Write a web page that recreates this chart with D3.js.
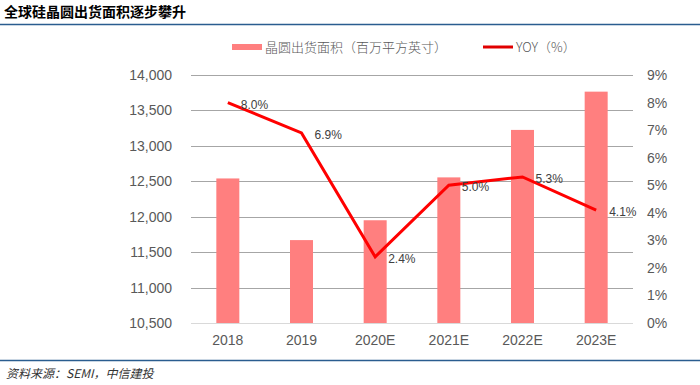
<!DOCTYPE html>
<html><head><meta charset="utf-8">
<script src="https://cdn.jsdelivr.net/npm/d3@7"></script>
<style>body{margin:0;background:#fff}svg{display:block}</style>
</head><body>
<svg id="c" width="700" height="385"></svg>
<script>
const categories = ["2018","2019","2020E","2021E","2022E","2023E"];
const area = [12540, 11670, 11950, 12555, 13225, 13765];
const yoy = [8.0, 6.9, 2.4, 5.0, 5.3, 4.1];
const leftTicks = [10500,11000,11500,12000,12500,13000,13500,14000];
const rightTicks = [0,1,2,3,4,5,6,7,8,9];

const svg = d3.select("#c");
const L = 191, R = 633, T = 75, B = 323;
const x = d3.scaleBand().domain(categories).range([L, R]);
const yL = d3.scaleLinear().domain([10500, 14000]).range([B, T]);
const yR = d3.scaleLinear().domain([0, 9]).range([B, T]);
const axisFont = "'Liberation Sans', Arial, sans-serif";

// title
svg.append("text").attr("x", 4).attr("y", 17).text("全球硅晶圆出货面积逐步攀升")
  .attr("font-family", "'Noto Sans CJK SC'").attr("font-weight", "bold").attr("font-size", 14).attr("fill", "#000");
svg.append("line").attr("x1", 0).attr("x2", 700).attr("y1", 24.5).attr("y2", 24.5).attr("stroke", "#2a5d8f").attr("stroke-width", 1.5);
svg.append("line").attr("x1", 0).attr("x2", 700).attr("y1", 360.5).attr("y2", 360.5).attr("stroke", "#2a5d8f").attr("stroke-width", 1.5);
svg.append("text").attr("x", 6).attr("y", 378).text("资料来源：SEMI，中信建投")
  .attr("font-family", "'Noto Sans CJK SC'").attr("font-style", "italic").attr("font-size", 12).attr("fill", "#333");

// grid
svg.append("g").selectAll("line").data(leftTicks.slice(1)).join("line")
  .attr("x1", L).attr("x2", R).attr("y1", d => Math.round(yL(d)) + 0.5).attr("y2", d => Math.round(yL(d)) + 0.5)
  .attr("stroke", "#a6a6a6").attr("stroke-width", 1);

// bars
svg.append("g").selectAll("rect").data(categories).join("rect")
  .attr("x", d => x(d) + x.bandwidth() / 2 - 11.5).attr("width", 23)
  .attr("y", (d, i) => yL(area[i])).attr("height", (d, i) => B - yL(area[i]))
  .attr("fill", "#ff7f7f");

// bottom axis line
svg.append("line").attr("x1", L).attr("x2", R).attr("y1", B + 0.5).attr("y2", B + 0.5).attr("stroke", "#d9d9d9");

// axes
const gl = svg.append("g").attr("transform", `translate(${L - 16},0)`)
  .call(d3.axisLeft(yL).tickValues(leftTicks).tickFormat(d3.format(",")).tickSize(0));
const gr = svg.append("g").attr("transform", `translate(${R + 11},0)`)
  .call(d3.axisRight(yR).tickValues(rightTicks).tickFormat(d => d + "%").tickSize(0));
const gx = svg.append("g").attr("transform", `translate(0,${B + 9})`)
  .call(d3.axisBottom(x).tickSize(0));
[gl, gr, gx].forEach(g => {
  g.select(".domain").remove();
  g.selectAll("text").attr("font-family", axisFont).attr("font-size", 14).attr("fill", "#595959");
});

// line
const line = d3.line().x((d, i) => x(categories[i]) + x.bandwidth() / 2).y(d => yR(d));
svg.append("path").datum(yoy).attr("d", line).attr("fill", "none")
  .attr("stroke", "#ff0000").attr("stroke-width", 3).attr("stroke-linejoin", "miter");

svg.append("g").selectAll("text").data(yoy).join("text")
  .attr("x", (d, i) => x(categories[i]) + x.bandwidth() / 2 + 13)
  .attr("y", d => yR(d) + 6)
  .text(d => d.toFixed(1) + "%")
  .attr("font-family", axisFont).attr("font-size", 12).attr("fill", "#404040");

// legend
const lf = "'Noto Sans CJK SC'";
svg.append("rect").attr("x", 232).attr("y", 44).attr("width", 30).attr("height", 6).attr("fill", "#ff7f7f");
svg.append("text").attr("x", 265).attr("y", 52).text("晶圆出货面积（百万平方英寸）")
  .attr("font-family", lf).attr("font-size", 13).attr("font-weight", 300).attr("fill", "#595959");
svg.append("line").attr("x1", 483).attr("x2", 513).attr("y1", 47).attr("y2", 47).attr("stroke", "#e00000").attr("stroke-width", 3);
svg.append("text").attr("x", 516).attr("y", 52).text("YOY（%）")
  .attr("font-family", lf).attr("font-size", 13).attr("font-weight", 300).attr("fill", "#595959");
</script>
</body></html>
